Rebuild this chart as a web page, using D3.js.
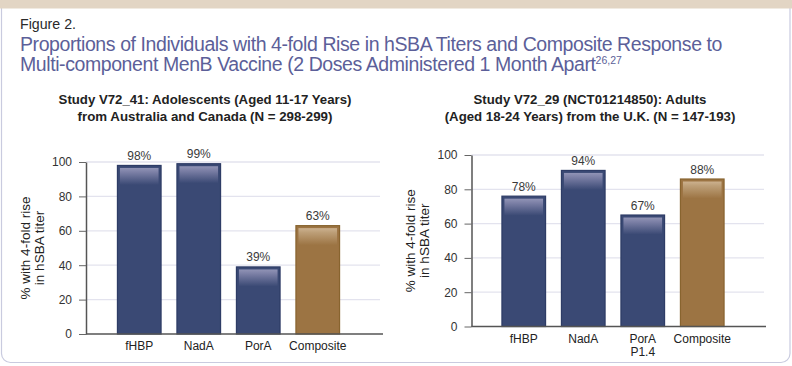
<!DOCTYPE html>
<html>
<head>
<meta charset="utf-8">
<script src="https://cdn.jsdelivr.net/npm/d3@7"></script>
<style>
  html, body { margin: 0; padding: 0; background: #ffffff; }
  svg { display: block; }
  text { font-family: "Liberation Sans", Arial, Helvetica, sans-serif; }
</style>
</head>
<body>
<svg id="chart" width="792" height="366"></svg>
<script>
// ---------- DATA ----------
const figureLabel = "Figure 2.";
const figureTitleLine1 = "Proportions of Individuals with 4-fold Rise in hSBA Titers and Composite Response to";
const figureTitleLine2 = "Multi-component MenB Vaccine (2 Doses Administered 1 Month Apart";
const figureTitleRefs = "26,27";

const leftTitle = ["Study V72_41: Adolescents (Aged 11-17 Years)", "from Australia and Canada (N = 298-299)"];
const leftCategories = ["fHBP", "NadA", "PorA", "Composite"];
const leftValues = [98, 99, 39, 63];
const leftLabels = ["98%", "99%", "39%", "63%"];

const rightTitle = ["Study V72_29 (NCT01214850): Adults", "(Aged 18-24 Years) from the U.K. (N = 147-193)"];
const rightCategories = ["fHBP", "NadA", "PorA\nP1.4", "Composite"];
const rightValues = [76, 91, 65, 86];
const rightLabels = ["78%", "94%", "67%", "88%"];

const yTicks = [0, 20, 40, 60, 80, 100];
const yAxisTitle = ["% with 4-fold rise", "in hSBA titer"];

// ---------- STYLE ----------
const navy = "#3a4974", navyStroke = "#2e3c66";
const brown = "#9c7443", brownStroke = "#88642f";

const svg = d3.select("#chart");
const defs = svg.append("defs");
function grad(id, top, mid, bottom) {
  const g = defs.append("linearGradient").attr("id", id)
    .attr("x1", 0).attr("y1", 0).attr("x2", 0).attr("y2", 1);
  g.append("stop").attr("offset", 0).attr("stop-color", top);
  g.append("stop").attr("offset", 0.25).attr("stop-color", mid);
  g.append("stop").attr("offset", 1).attr("stop-color", bottom);
}
grad("gNavy", "#9194b6", "#7c80a6", navy);
grad("gBrown", "#ccb18f", "#bd9f78", brown);

// panel
svg.append("rect").attr("x", 1.5).attr("y", -20).attr("width", 788.5).attr("height", 382.5)
  .attr("rx", 9).attr("fill", "#ffffff").attr("stroke", "#c9cbdf").attr("stroke-width", 1.2);
svg.append("rect").attr("x", 0).attr("y", 0).attr("width", 792).attr("height", 8.5).attr("fill", "#e2d5c4");

function fitSize(sel, width) {
  const w = sel.node().getComputedTextLength();
  const fs = parseFloat(sel.attr("font-size"));
  sel.attr("font-size", fs * width / w);
}
function fitSpacing(sel, width) {
  const w = sel.node().getComputedTextLength();
  const n = sel.text().length;
  sel.attr("letter-spacing", (width - w) / n);
}

// header
const fl = svg.append("text").attr("x", 20).attr("y", 28.5).attr("font-size", 14)
  .attr("fill", "#2a2a2a").text(figureLabel);
fitSize(fl, 56);

const t1 = svg.append("text").attr("x", 20).attr("y", 50.5).attr("font-size", 19.5)
  .attr("fill", "#5c5f99").text(figureTitleLine1);
fitSpacing(t1, 702);
const ls = t1.attr("letter-spacing");
const t2 = svg.append("text").attr("x", 20).attr("y", 70.5).attr("font-size", 19.5)
  .attr("fill", "#5c5f99").attr("letter-spacing", ls);
t2.append("tspan").text(figureTitleLine2);
t2.append("tspan").attr("font-size", 10.5).attr("dy", -7).attr("letter-spacing", 0).text(figureTitleRefs);

// ---------- CHARTS ----------
const charts = [
  { title: leftTitle, titleWidths: [293, 255], titleX: 205,
    cats: leftCategories, vals: leftValues, labels: leftLabels,
    axisX: 86, axisEnd: 383, gridEnd: 380, yBottom: 334, yTop: 162,
    band: [109.5, 347.5], yTitleX: [25, 39] },
  { title: rightTitle, titleWidths: [233, 291], titleX: 590,
    cats: rightCategories, vals: rightValues, labels: rightLabels,
    axisX: 471.5, axisEnd: 766, gridEnd: 764, yBottom: 326.5, yTop: 155,
    band: [494, 732], yTitleX: [410, 424] }
];

charts.forEach(c => {
  const g = svg.append("g");
  // titles
  c.title.forEach((line, i) => {
    const t = g.append("text").attr("x", c.titleX).attr("y", 103.5 + i * 17)
      .attr("text-anchor", "middle").attr("font-weight", "bold").attr("font-size", 12.5)
      .attr("fill", "#222").text(line);
    fitSize(t, c.titleWidths[i]);
  });

  const y = d3.scaleLinear().domain([0, 100]).range([c.yBottom, c.yTop]);
  const x = d3.scaleBand().domain(c.cats).range(c.band).paddingInner(0.25).paddingOuter(0.125);

  // gridlines
  g.selectAll(".grid").data(yTicks.filter(v => v > 0)).join("line")
    .attr("x1", c.axisX).attr("x2", c.gridEnd)
    .attr("y1", d => y(d)).attr("y2", d => y(d))
    .attr("stroke", "#e3e3ee").attr("stroke-width", 1.3);

  // bars
  const data = c.cats.map((k, i) => ({ k, v: c.vals[i], l: c.labels[i], comp: k === "Composite" }));
  g.selectAll(".bar").data(data).join("rect")
    .attr("x", d => x(d.k) + 0.5).attr("y", d => y(d.v))
    .attr("width", x.bandwidth() - 1).attr("height", d => y(0) - y(d.v))
    .attr("fill", d => d.comp ? brown : navy)
    .attr("stroke", d => d.comp ? brownStroke : navyStroke).attr("stroke-width", 1.2);
  g.selectAll(".hl").data(data).join("rect")
    .attr("x", d => x(d.k) + 3).attr("y", d => y(d.v) + 2.5)
    .attr("width", x.bandwidth() - 6).attr("height", 17)
    .attr("fill", d => d.comp ? "url(#gBrown)" : "url(#gNavy)");

  // value labels
  g.selectAll(".val").data(data).join("text")
    .attr("x", d => x(d.k) + x.bandwidth() / 2).attr("y", d => y(d.v) - 5.5)
    .attr("text-anchor", "middle").attr("font-size", 12).attr("fill", "#3a3a3a")
    .text(d => d.l);

  // y axis
  const ya = g.append("g").attr("transform", `translate(${c.axisX},0)`)
    .call(d3.axisLeft(y).tickValues(yTicks).tickSize(7).tickSizeOuter(0).tickPadding(7));
  ya.attr("font-size", null).attr("font-family", null);
  ya.select(".domain").attr("stroke", "#555").attr("stroke-width", 1.5);
  ya.selectAll(".tick line").attr("stroke", "#666").attr("stroke-width", 1);
  ya.selectAll(".tick text").attr("font-size", 12).attr("fill", "#333");

  // x axis line
  g.append("line").attr("x1", c.axisX).attr("x2", c.axisEnd)
    .attr("y1", y(0)).attr("y2", y(0)).attr("stroke", "#555").attr("stroke-width", 1.5);

  // category labels
  const xa = g.append("g").attr("transform", `translate(0,${y(0)})`)
    .call(d3.axisBottom(x).tickSize(0).tickPadding(0));
  xa.attr("font-size", null).attr("font-family", null);
  xa.select(".domain").remove();
  xa.selectAll(".tick text").each(function (d) {
    const t = d3.select(this).text(null).attr("y", 0).attr("dy", null)
      .attr("font-size", 12).attr("fill", "#222");
    d.split("\n").forEach((s, i) => {
      t.append("tspan").attr("x", 0).attr("y", 16 + i * 13.5).text(s);
    });
  });

  // y axis title
  const cy = (c.yBottom + c.yTop) / 2;
  yAxisTitle.forEach((line, i) => {
    g.append("text").attr("transform", `translate(${c.yTitleX[i]},${cy}) rotate(-90)`)
      .attr("text-anchor", "middle").attr("dy", "0.35em").attr("font-size", 13.5)
      .attr("fill", "#222").text(line);
  });
});
</script>
</body>
</html>
